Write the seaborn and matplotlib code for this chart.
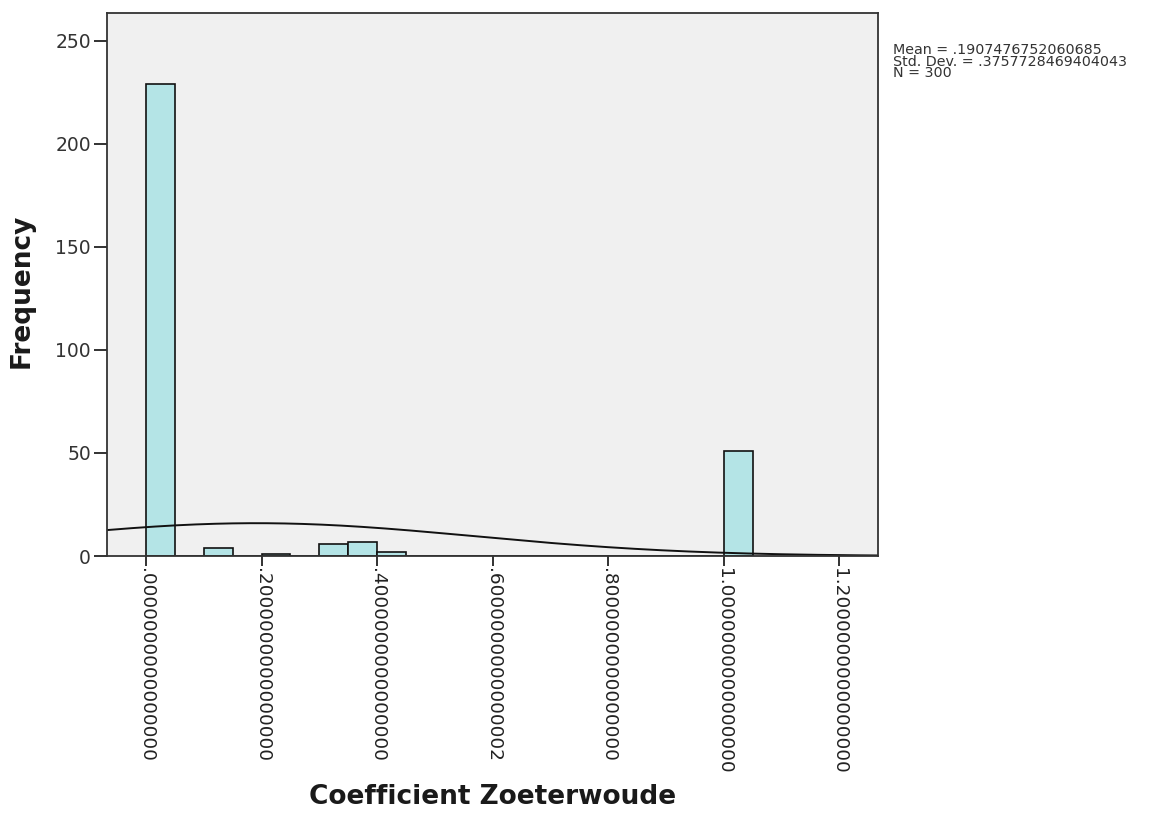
import numpy as np
import pandas as pd
import matplotlib
matplotlib.use('Agg')
import matplotlib.pyplot as plt
import seaborn as sns

# histogram bins (left edges) and frequencies
bin_lefts = [0.00, 0.10, 0.20, 0.30, 0.35, 0.40, 1.00]
counts = [229, 4, 1, 6, 7, 2, 51]
bin_width = 0.05

# summary statistics shown next to the chart
mean_val = 0.1907476752060685
std_val = 0.3757728469404043
n_total = 300

x_ticks = [0.0, 0.2, 0.4, 0.6, 0.8, 1.0, 1.2]
x_tick_labels = ['.0000000000000000', '.2000000000000000', '.4000000000000000',
                 '.6000000000000002', '.8000000000000000', '1.0000000000000000',
                 '1.2000000000000000']
y_ticks = [0, 50, 100, 150, 200, 250]

df = pd.DataFrame({'value': np.array(bin_lefts) + bin_width / 2, 'count': counts})

sns.set_style('white')
plt.rcParams['font.family'] = ['DejaVu Sans']

fig = plt.figure(figsize=(11.49, 8.13), dpi=100)
ax = fig.add_axes([107 / 1149, 1 - 556 / 813, 771 / 1149, 543 / 813])
ax.set_facecolor('#F0F0F0')

sns.histplot(data=df, x='value', weights='count', binwidth=bin_width, binrange=(0, 1.05),
             color='#B4E4E6', alpha=1, edgecolor='#111111', linewidth=1.2, ax=ax)

# fitted normal curve scaled to counts
x_min, x_max = -0.0674, 1.267
xs = np.linspace(x_min, x_max, 400)
ys = n_total * bin_width * np.exp(-0.5 * ((xs - mean_val) / std_val) ** 2) / (std_val * np.sqrt(2 * np.pi))
sns.lineplot(x=xs, y=ys, color='#111111', linewidth=1.4, ax=ax)

ax.set_xlim(x_min, x_max)
ax.set_ylim(0, 263.5)
ax.set_xticks(x_ticks)
ax.set_xticklabels(x_tick_labels, rotation=270, fontsize=13.3, color='#222222')
ax.set_yticks(y_ticks)
ax.set_yticklabels([str(v) for v in y_ticks], fontsize=13.5, color='#333333')
ax.tick_params(axis='x', direction='out', length=7, width=1.3, color='#222222', pad=1.5, bottom=True)
ax.tick_params(axis='y', direction='out', length=9.5, width=1.3, color='#222222', pad=2, left=True)
for sp in ax.spines.values():
    sp.set_visible(True)
    sp.set_color('#333333')
    sp.set_linewidth(1.3)

ax.set_xlabel('Coefficient Zoeterwoude', fontsize=19, fontweight='bold', color='#1a1a1a')
ax.set_ylabel('Frequency', fontsize=19, fontweight='bold', color='#1a1a1a')
ax.xaxis.set_label_coords(0.5, (556 - 797) / 543)
ax.xaxis.label.set_va('center')
ax.yaxis.set_label_coords((22 - 107) / 771, (556 - 291) / 543)
ax.yaxis.label.set_va('center')

stats_text = '\n'.join([f'Mean = .{str(mean_val)[2:]}',
                        f'Std. Dev. = .{str(std_val)[2:]}',
                        f'N = {n_total}'])
fig.text(893 / 1149, 1 - 43 / 813, stats_text, fontsize=10.3, color='#333333',
         ha='left', va='top', linespacing=0.78)

plt.savefig('out.png', dpi=100)
plt.close(fig)
